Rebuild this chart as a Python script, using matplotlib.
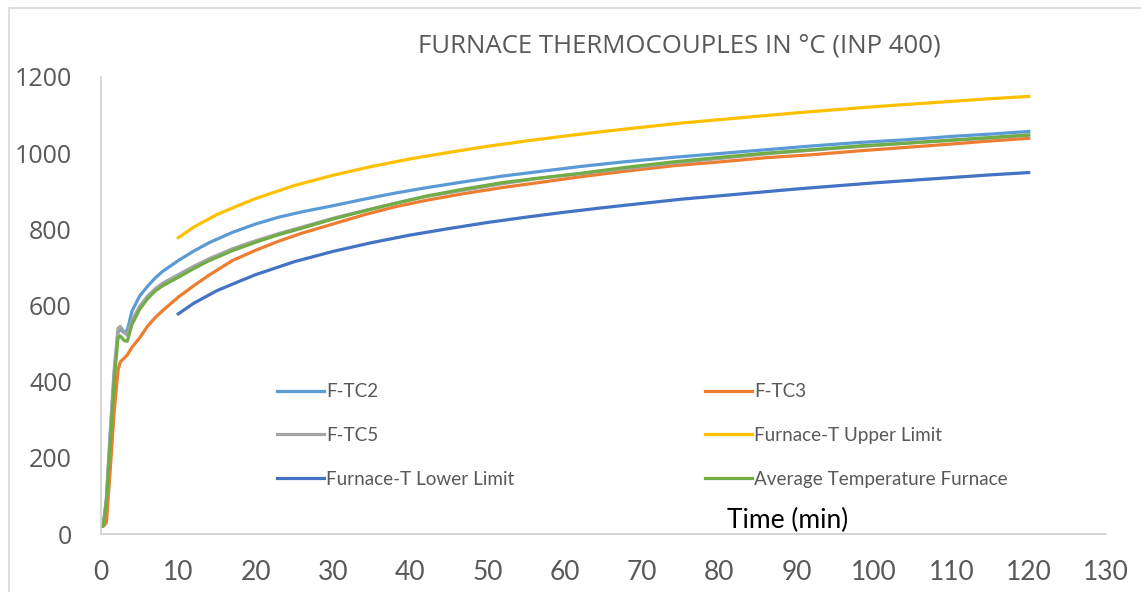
import matplotlib.pyplot as plt
from matplotlib.patches import Rectangle

# measured furnace readings (min, degC)
time_meas = [0, 0.3, 0.7, 1.2, 1.7, 2.2, 2.5, 3.0, 3.4, 4, 5, 6, 7, 8, 10, 12, 14,
             17, 20, 23, 26, 30, 34, 38, 42, 47, 52, 56, 62, 68, 74, 80, 86, 92,
             98, 104, 110, 115, 120]
tc2 = [20, 22, 90, 260, 420, 530, 538, 528, 535, 585, 625, 650, 672, 690, 718,
       743, 765, 792, 814, 832, 846, 862, 879, 895, 909, 925, 940, 950, 965, 978,
       989, 999, 1009, 1019, 1028, 1035, 1044, 1050, 1057]
tc3 = [20, 20, 30, 170, 320, 430, 452, 462, 470, 490, 515, 545, 568, 587, 622,
       652, 680, 718, 745, 769, 790, 814, 838, 859, 876, 894, 910, 921, 938, 953,
       967, 977, 988, 996, 1006, 1015, 1024, 1032, 1039]
tc5 = [20, 22, 95, 270, 430, 540, 545, 530, 522, 560, 598, 624, 644, 659, 681,
       703, 723, 749, 770, 789, 806, 829, 849, 868, 886, 903, 920, 932, 946, 960,
       974, 986, 998, 1008, 1017, 1026, 1034, 1040, 1047]
avg = [20, 22, 85, 240, 400, 515, 520, 508, 506, 550, 590, 617, 638, 652, 674,
       697, 718, 744, 766, 786, 803, 827, 848, 868, 887, 906, 923, 933, 947, 963,
       977, 989, 1000, 1009, 1019, 1026, 1034, 1041, 1048]

# tolerance band of the standard fire curve
time_lim = [10, 12, 15, 17, 20, 25, 30, 35, 40, 45, 50, 55, 60, 65, 70, 75, 80,
            85, 90, 95, 100, 105, 110, 115, 120]
upper = [778, 806, 839, 856, 881, 915, 942, 965, 985, 1002, 1018, 1032, 1045,
         1057, 1068, 1079, 1088, 1097, 1106, 1114, 1122, 1129, 1136, 1143, 1149]
lower = [578, 606, 639, 656, 681, 715, 742, 765, 785, 802, 818, 832, 845,
         857, 868, 879, 888, 897, 906, 914, 922, 929, 936, 943, 949]

grey = '#595959'
narrow = ['Lato', 'DejaVu Sans']

fig = plt.figure(figsize=(11.41, 5.92), dpi=100)
fig.patches.append(Rectangle((9 / 1141, -0.01), 1.1, 1 - 7.5 / 592 + 0.01,
                             transform=fig.transFigure, fill=False,
                             edgecolor='#d9d9d9', linewidth=1.2))
ax = fig.add_axes([101 / 1141, 58 / 592, 1005 / 1141, 457 / 592])

lw = 2.3
l1, = ax.plot(time_meas, tc2, color='#5B9BD5', lw=lw, label='F-TC2')
l2, = ax.plot(time_meas, tc3, color='#ED7D31', lw=lw, label='F-TC3')
l3, = ax.plot(time_meas, tc5, color='#A5A5A5', lw=lw, label='F-TC5')
l4, = ax.plot(time_lim, upper, color='#FFC000', lw=lw, label='Furnace-T Upper Limit')
l5, = ax.plot(time_lim, lower, color='#4472C4', lw=lw, label='Furnace-T Lower Limit')
l6, = ax.plot(time_meas, avg, color='#70AD47', lw=lw, label='Average Temperature Furnace')

ax.set_xlim(0, 130)
ax.set_ylim(0, 1200)
ax.set_xticks(range(0, 131, 10))
ax.set_yticks(range(0, 1201, 200))
ax.tick_params(length=0)
ax.tick_params(axis='x', pad=19, labelsize=19, labelcolor=grey)
ax.tick_params(axis='y', pad=21, labelsize=18, labelcolor=grey)
for t in ax.get_xticklabels():
    t.set_family(narrow)
for t in ax.get_yticklabels():
    t.set_family(['Open Sans', 'DejaVu Sans'])

for s in ['top', 'right']:
    ax.spines[s].set_visible(False)
for s in ['left', 'bottom']:
    ax.spines[s].set_color('#d0d0d0')
    ax.spines[s].set_linewidth(1.2)

ax.set_title('FURNACE THERMOCOUPLES IN °C (INP 400)', fontsize=18.5, color=grey,
             family=['Open Sans', 'DejaVu Sans'], x=0.575, y=1.035)

ax.set_xlabel('Time (min)', fontsize=19, color='black', family=narrow)
ax.xaxis.set_label_coords(0.683, 0.057)

ax.legend([l1, l3, l5, l2, l4, l6],
          [h.get_label() for h in [l1, l3, l5, l2, l4, l6]],
          ncol=2, loc='upper left', bbox_to_anchor=(0.158, 0.367),
          frameon=False, handlelength=2.5, handletextpad=0.1,
          labelspacing=1.42, columnspacing=10.1,
          prop={'family': narrow, 'size': 13.6}, labelcolor=grey)

fig.savefig('out.png', dpi=100)
